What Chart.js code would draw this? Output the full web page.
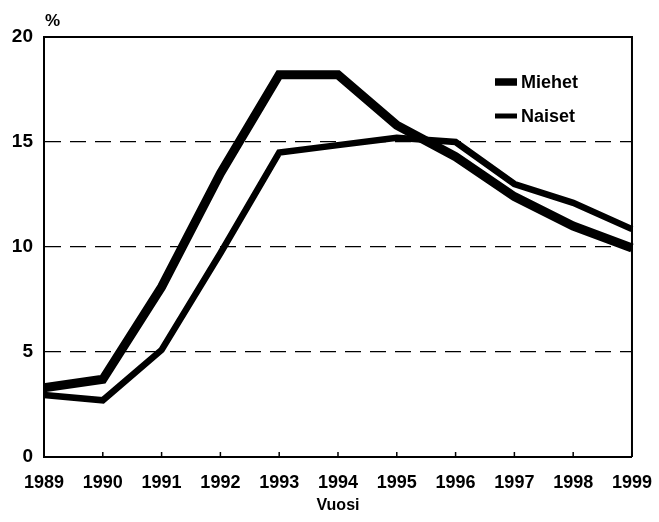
<!DOCTYPE html>
<html>
<head>
<meta charset="utf-8">
<script src="https://cdn.jsdelivr.net/npm/chart.js@4/dist/chart.umd.min.js"></script>
<style>
  html, body { margin: 0; padding: 0; background: #fff; }
  #wrap { width: 659px; height: 522px; }
</style>
</head>
<body>
<div id="wrap"><canvas id="unemploymentChart" width="659" height="522"></canvas></div>
<script>
// Työttömyysaste 1989-1999
const years = ['1989', '1990', '1991', '1992', '1993', '1994', '1995', '1996', '1997', '1998', '1999'];
const miehet = [3.3, 3.7, 8.1, 13.5, 18.2, 18.2, 15.8, 14.3, 12.4, 11.0, 9.95];
const naiset = [2.95, 2.7, 5.1, 9.7, 14.5, 14.85, 15.2, 15.0, 13.0, 12.1, 10.85];
const yTicks = [0, 5, 10, 15, 20];

const FONT = '"Liberation Sans", Arial, sans-serif';

// little marks on the x axis pointing up, plus the % label and the legend inside the plot
const extras = {
  id: 'extras',
  afterDraw(chart) {
    const ctx = chart.ctx;
    const x = chart.scales.x;
    const area = chart.chartArea;
    ctx.save();
    ctx.strokeStyle = '#000';
    ctx.lineWidth = 1.5;
    years.forEach((yr, i) => {
      const px = x.getPixelForValue(i);
      ctx.beginPath();
      ctx.moveTo(px, area.bottom);
      ctx.lineTo(px, area.bottom - 5);
      ctx.stroke();
    });

    ctx.fillStyle = '#000';
    ctx.font = 'bold 17px ' + FONT;
    ctx.textAlign = 'left';
    ctx.textBaseline = 'alphabetic';
    ctx.fillText('%', area.left + 1, area.top - 11);

    // legend
    ctx.font = 'bold 18px ' + FONT;
    ctx.textBaseline = 'middle';
    chart.data.datasets.forEach((ds, i) => {
      const ly = area.top + 45 + i * 34;
      const lx = area.right - 137;
      ctx.lineWidth = ds.borderWidth - 1.5;
      ctx.lineCap = 'butt';
      ctx.beginPath();
      ctx.moveTo(lx, ly);
      ctx.lineTo(lx + 22, ly);
      ctx.stroke();
      ctx.fillText(ds.label, lx + 26, ly + 1);
    });
    ctx.restore();
  }
};

const gridColor = (c) => (c.tick.value === 0 || c.tick.value === 20) ? 'rgba(0,0,0,0)' : '#000';

new Chart(document.getElementById('unemploymentChart'), {
  type: 'line',
  data: {
    labels: years,
    datasets: [
      {
        label: 'Miehet',
        data: miehet,
        borderColor: '#000',
        borderWidth: 9,
        pointRadius: 0,
        tension: 0,
        fill: false
      },
      {
        label: 'Naiset',
        data: naiset,
        borderColor: '#000',
        borderWidth: 6.5,
        pointRadius: 0,
        tension: 0,
        fill: false
      }
    ]
  },
  options: {
    responsive: false,
    animation: false,
    layout: { padding: { left: 0, right: 25, top: 37, bottom: 0 } },
    plugins: {
      legend: { display: false },
      tooltip: { enabled: false },
      title: { display: false }
    },
    scales: {
      x: {
        offset: false,
        grid: { display: false },
        border: { display: true, color: '#000', width: 2 },
        ticks: {
          color: '#000',
          font: { family: FONT, size: 18, weight: 'bold' },
          padding: 7,
          maxRotation: 0,
          autoSkip: false
        },
        title: {
          display: true,
          text: 'Vuosi',
          color: '#000',
          font: { family: FONT, size: 16, weight: 'bold' },
          padding: { top: 4, bottom: 7 }
        },
        afterFit(scale) { scale.height = 65; }
      },
      y: {
        min: 0,
        max: 20,
        afterBuildTicks(scale) { scale.ticks = yTicks.map(v => ({ value: v })); },
        grid: {
          color: gridColor,
          lineWidth: 1.2,
          drawTicks: false
        },
        border: { display: true, color: '#000', width: 2, dash: [16, 9] },
        ticks: {
          color: '#000',
          font: { family: FONT, size: 19, weight: 'bold' },
          padding: 11
        },
        afterFit(scale) { scale.width = 44; }
      }
    }
  },
  plugins: [extras, {
    id: 'frame',
    beforeDatasetsDraw(chart) {
      const ctx = chart.ctx;
      const a = chart.chartArea;
      ctx.save();
      ctx.strokeStyle = '#000';
      ctx.lineWidth = 2;
      ctx.beginPath();
      ctx.moveTo(a.left, a.top);
      ctx.lineTo(a.right, a.top);
      ctx.lineTo(a.right, a.bottom);
      ctx.stroke();
      ctx.restore();
    }
  }]
});
</script>
</body>
</html>
